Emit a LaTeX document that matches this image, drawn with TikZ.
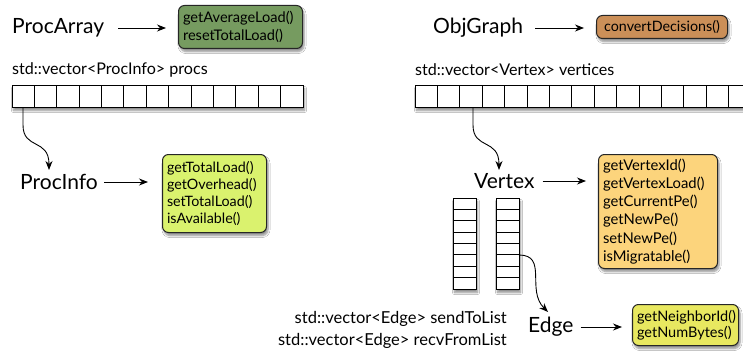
\documentclass[tikz,border=0pt]{standalone}
\usepackage{fontspec}
\setmainfont{Lato}
\usetikzlibrary{arrows.meta,shadows.blur,positioning,calc}
\definecolor{cGreen}{RGB}{118,155,96}
\definecolor{cBrown}{RGB}{203,143,88}
\definecolor{cLime}{RGB}{218,242,110}
\definecolor{cPeach}{RGB}{252,212,124}
\definecolor{cYel}{RGB}{232,232,96}
\tikzset{
  methodbox/.style={draw=black!85, line width=1pt, rounded corners=6pt, align=left, anchor=north west,
     inner xsep=4.5pt, inner ysep=3pt, font=\fontsize{14.3}{16.8}\selectfont,
     blur shadow={shadow xshift=1.5pt, shadow yshift=-3pt, shadow blur steps=6, shadow opacity=45}},
  classlbl/.style={font=\fontsize{21}{24}\selectfont, anchor=west, inner sep=0pt},
  veclbl/.style={font=\fontsize{16.1}{18}\selectfont, inner sep=0pt},
  arr/.style={-{Stealth[length=9pt,width=7pt]}, line width=0.9pt},
  carr/.style={-{Stealth[length=9pt,width=7pt]}, line width=0.9pt},
  arraybox/.style={draw, line width=1pt, fill=white, inner sep=0pt, anchor=north west,
     blur shadow={shadow xshift=1pt, shadow yshift=-3pt, shadow blur steps=6, shadow opacity=45}},
}
\begin{document}
\begin{tikzpicture}[x=1pt,y=-1pt]
\useasboundingbox[fill=white] (0,0) rectangle (743,353);

% ---- top-left: ProcArray ----
\node[classlbl] (procarray) at (12,28) {ProcArray};
\node[methodbox, fill=cGreen, text width=115pt, minimum height=43pt, font=\fontsize{14.6}{18}\selectfont] (pabox) at (178,5)
  {getAverageLoad()\\resetTotalLoad()};
\draw[arr, shorten <=14pt, shorten >=12pt] (procarray.east) -- (procarray.east -| pabox.west);

\node[veclbl, anchor=west] (procsl) at (12,70) {std::vector<ProcInfo> procs};
\node[arraybox, minimum width=291pt, minimum height=22pt] (procs) at (12,85) {};
\foreach \i in {1,...,12} \draw[line width=1pt] ($(12,85)+(\i*22.385,0)$) -- ++(0,22);

% ---- ProcInfo ----
\node[classlbl] (procinfo) at (20,182) {ProcInfo};
\node[methodbox, fill=cLime, text width=95pt, minimum height=78pt] (pibox) at (162,154)
  {getTotalLoad()\\getOverhead()\\setTotalLoad()\\isAvailable()};
\draw[arr, shorten <=6pt, shorten >=14pt] (procinfo.east) -- (procinfo.east -| pibox.west);
\coordinate (pcell) at (23,107);
\coordinate (pitop) at (49,170);
\draw[carr] (pcell) -- (23,125) .. controls (23,150) and (49,138) .. (pitop);

% ---- ObjGraph ----
\node[classlbl] (objgraph) at (433,28) {ObjGraph};
\node[methodbox, fill=cBrown, minimum width=131pt, minimum height=23pt, inner ysep=2pt] (ogbox) at (596,15)
  {convertDecisions()};
\draw[arr, shorten <=12pt, shorten >=12pt] (objgraph.east) -- (objgraph.east -| ogbox.west);

\node[veclbl, anchor=west] (vertl) at (415,70) {std::vector<Vertex> vertices};
\node[arraybox, minimum width=340pt, minimum height=22pt] (verts) at (415,85) {};
\foreach \i in {1,...,14} \draw[line width=1pt] ($(415,85)+(\i*22.4,0)$) -- ++(0,22);

% ---- Vertex ----
\node[classlbl] (vertex) at (474,181) {Vertex};
\node[methodbox, fill=cPeach, text width=110pt, minimum height=114pt, font=\fontsize{14.8}{18.2}\selectfont] (vbox) at (598,154)
  {getVertexId()\\getVertexLoad()\\getCurrentPe()\\getNewPe()\\setNewPe()\\isMigratable()};
\draw[arr, shorten <=8pt, shorten >=12pt] (vertex.east) -- (vertex.east -| vbox.west);
\coordinate (vcell) at (473,107);
\coordinate (vtop) at (499,170);
\draw[carr] (vcell) -- (473,125) .. controls (473,150) and (499,138) .. (vtop);

% ---- Edge lists ----
\node[arraybox, minimum width=23pt, minimum height=91pt] (sendl) at (453,198) {};
\node[arraybox, minimum width=23pt, minimum height=91pt] (recvl) at (496,198) {};
\foreach \j in {1,...,7} {
  \draw[line width=1pt] (453,198+\j*11.375) -- ++(23,0);
  \draw[line width=1pt] (496,198+\j*11.375) -- ++(23,0);
}
\node[veclbl, anchor=east, font=\fontsize{16.5}{18}\selectfont] (sendlbl) at (507,319) {std::vector<Edge> sendToList};
\node[veclbl, anchor=east, font=\fontsize{16.5}{18}\selectfont] (recvlbl) at (507,341) {std::vector<Edge> recvFromList};

% ---- Edge ----
\node[classlbl] (edge) at (528,327) {Edge};
\node[methodbox, fill=cYel, text width=97pt, minimum height=41pt, font=\fontsize{14.5}{16.5}\selectfont] (ebox) at (632,304)
  {getNeighborId()\\getNumBytes()};
\draw[arr, shorten <=7pt, shorten >=10pt] (edge.east) -- (edge.east -| ebox.west);
\coordinate (ecell) at (519,255);
\coordinate (etop) at (548,312);
\draw[carr] (ecell) .. controls (548,255) and (526,290) .. (etop);
\end{tikzpicture}
\end{document}
